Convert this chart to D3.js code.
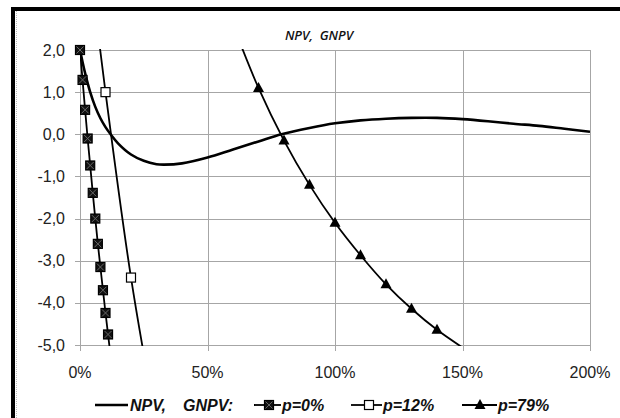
<!DOCTYPE html>
<html>
<head>
<meta charset="utf-8">
<script src="https://cdn.jsdelivr.net/npm/d3@7"></script>
<style>
  html, body { margin: 0; padding: 0; background: #fff; overflow: hidden; }
  svg { display: block; }
</style>
</head>
<body>
<div id="chart"></div>
<script>
// rates in %, values in the chart's units
const npvRates = [0, 2, 4, 6, 8, 10, 12, 15, 20, 25, 30, 33, 40, 50, 60, 70, 79, 90, 100, 110, 120, 130, 140, 150, 160, 170, 180, 190, 200]
const npvValues = [2.0, 1.45, 1.0, 0.65, 0.38, 0.17, 0.0, -0.22, -0.48, -0.63, -0.71, -0.72, -0.69, -0.55, -0.36, -0.17, 0.0, 0.15, 0.26, 0.33, 0.37, 0.39, 0.39, 0.36, 0.31, 0.25, 0.2, 0.13, 0.06]

const p0Rates = [0, 1, 2, 3, 4, 5, 6, 7, 8, 9, 10, 11, 12]
const p0Values = [2.0, 1.29, 0.58, -0.1, -0.74, -1.39, -2.0, -2.6, -3.15, -3.7, -4.24, -4.75, -5.25]

const p12Rates = [0, 10, 20, 30]
const p12Values = [5.9, 1.0, -3.4, -6.9]

const p79Rates = [60, 70, 80, 90, 100, 110, 120, 130, 140, 150]
const p79Values = [2.6, 1.1, -0.15, -1.2, -2.1, -2.87, -3.56, -4.14, -4.64, -5.06]

const xTicks = [0, 50, 100, 150, 200]
const yTicks = [2, 1, 0, -1, -2, -3, -4, -5]

const W = 620, H = 418
const pLeft = 80, pRight = 590, pTop = 50, pBottom = 345

const svg = d3.select("#chart").append("svg")
    .attr("width", W)
    .attr("height", H)
    .attr("viewBox", [0, 0, W, H])

svg.append("rect").attr("width", W).attr("height", H).attr("fill", "#fff")

// outer frame: only top and left edges show
svg.append("path")
    .attr("d", `M13,${H}V9H${W}`)
    .attr("fill", "none")
    .attr("stroke", "#000")
    .attr("stroke-width", 4)
svg.append("line")
    .attr("x1", 16.5).attr("x2", 16.5)
    .attr("y1", 11).attr("y2", H)
    .attr("stroke", "#bbb")
    .attr("stroke-dasharray", "1,1")

const x = d3.scaleLinear().domain([0, 200]).range([pLeft, pRight])
const y = d3.scaleLinear().domain([-5, 2]).range([pBottom, pTop])

const gridColor = "#a6a6a6"

// grid
svg.append("g")
  .selectAll("line")
  .data(yTicks)
  .join("line")
    .attr("x1", pLeft - 5).attr("x2", pRight)
    .attr("y1", d => Math.round(y(d)) + 0.5)
    .attr("y2", d => Math.round(y(d)) + 0.5)
    .attr("stroke", gridColor)

svg.append("g")
  .selectAll("line")
  .data(xTicks)
  .join("line")
    .attr("x1", d => Math.round(x(d)) + 0.5)
    .attr("x2", d => Math.round(x(d)) + 0.5)
    .attr("y1", pTop).attr("y2", pBottom + 6)
    .attr("stroke", gridColor)

// tick labels
const fmtY = d => d3.format(".1f")(d).replace(".", ",").replace("−", "-")
svg.append("g")
  .selectAll("text")
  .data(yTicks)
  .join("text")
    .attr("x", 65)
    .attr("y", d => y(d) + 5.5)
    .attr("text-anchor", "end")
    .attr("font-family", "Liberation Sans, Arial, sans-serif")
    .attr("font-size", 16)
    .attr("fill", "#222")
    .text(fmtY)

svg.append("g")
  .selectAll("text")
  .data(xTicks)
  .join("text")
    .attr("x", d => x(d))
    .attr("y", 378)
    .attr("text-anchor", "middle")
    .attr("font-family", "Liberation Sans, Arial, sans-serif")
    .attr("font-size", 16)
    .attr("fill", "#222")
    .text(d => d + "%")

// title
svg.append("text")
    .attr("x", 319)
    .attr("y", 40)
    .attr("text-anchor", "middle")
    .attr("font-family", "Open Sans, sans-serif")
    .attr("font-style", "italic")
    .attr("font-weight", 600)
    .attr("font-size", 13)
    .attr("fill", "#111")
    .attr("xml:space", "preserve")
    .text("NPV,  GNPV")

svg.append("clipPath").attr("id", "plot")
  .append("rect")
    .attr("x", pLeft).attr("y", pTop - 1)
    .attr("width", pRight - pLeft).attr("height", pBottom - pTop + 2)

const plot = svg.append("g").attr("clip-path", "url(#plot)")

const line = d3.line()
    .x(d => x(d[0]))
    .y(d => y(d[1]))
    .curve(d3.curveCatmullRom.alpha(0.5))

const zipped = (xs, ys) => xs.map((r, i) => [r, ys[i]])
const inside = d => d[1] >= -5.0001 && d[1] <= 2.0001

const series = [
  {data: zipped(p0Rates, p0Values), marker: "xsquare"},
  {data: zipped(p12Rates, p12Values), marker: "square"},
  {data: zipped(p79Rates, p79Values), marker: "triangle"}
]

plot.append("path")
    .datum(zipped(npvRates, npvValues))
    .attr("fill", "none")
    .attr("stroke", "#000")
    .attr("stroke-width", 2.6)
    .attr("d", line)

series.forEach(s => {
  plot.append("path")
      .datum(s.data)
      .attr("fill", "none")
      .attr("stroke", "#000")
      .attr("stroke-width", 1.8)
      .attr("d", line)
})

function drawMarker(g, type, cx, cy) {
  if (type === "triangle") {
    g.append("path")
        .attr("d", `M${cx},${cy - 6}L${cx + 5.5},${cy + 4}L${cx - 5.5},${cy + 4}Z`)
        .attr("fill", "#000")
  } else {
    g.append("rect")
        .attr("x", cx - 4.5).attr("y", cy - 4.5)
        .attr("width", 9).attr("height", 9)
        .attr("fill", type === "square" ? "#fff" : "#111")
        .attr("stroke", "#000")
        .attr("stroke-width", 1.2)
    if (type === "xsquare") {
      g.append("path")
          .attr("d", `M${cx - 3.5},${cy - 3.5}L${cx + 3.5},${cy + 3.5}M${cx + 3.5},${cy - 3.5}L${cx - 3.5},${cy + 3.5}`)
          .attr("stroke", "#666")
          .attr("stroke-width", 1)
    }
  }
}

const markers = svg.append("g")
series.forEach(s => {
  s.data.filter(inside).forEach(d => drawMarker(markers, s.marker, x(d[0]), y(d[1])))
})

// legend
const ly = 405
const lg = svg.append("g")
    .attr("font-family", "Liberation Sans, Arial, sans-serif")
    .attr("font-size", 16)
    .attr("font-style", "italic")
    .attr("font-weight", "bold")
    .attr("fill", "#111")

lg.append("line").attr("x1", 95).attr("x2", 128).attr("y1", ly).attr("y2", ly)
    .attr("stroke", "#000").attr("stroke-width", 2.6)
lg.append("text").attr("x", 130).attr("y", ly + 6).text("NPV,")
lg.append("text").attr("x", 183).attr("y", ly + 6).text("GNPV:")

const legendItems = [
  {label: "p=0%", marker: "xsquare", x1: 254, x2: 281, mx: 269},
  {label: "p=12%", marker: "square", x1: 351, x2: 382, mx: 369},
  {label: "p=79%", marker: "triangle", x1: 462, x2: 497, mx: 480}
]
legendItems.forEach(it => {
  lg.append("line").attr("x1", it.x1).attr("x2", it.x2).attr("y1", ly).attr("y2", ly)
      .attr("stroke", "#000").attr("stroke-width", 1.8)
  drawMarker(lg, it.marker, it.mx, ly)
  lg.append("text").attr("x", it.x2 + 1).attr("y", ly + 6).text(it.label)
})
</script>
</body>
</html>
